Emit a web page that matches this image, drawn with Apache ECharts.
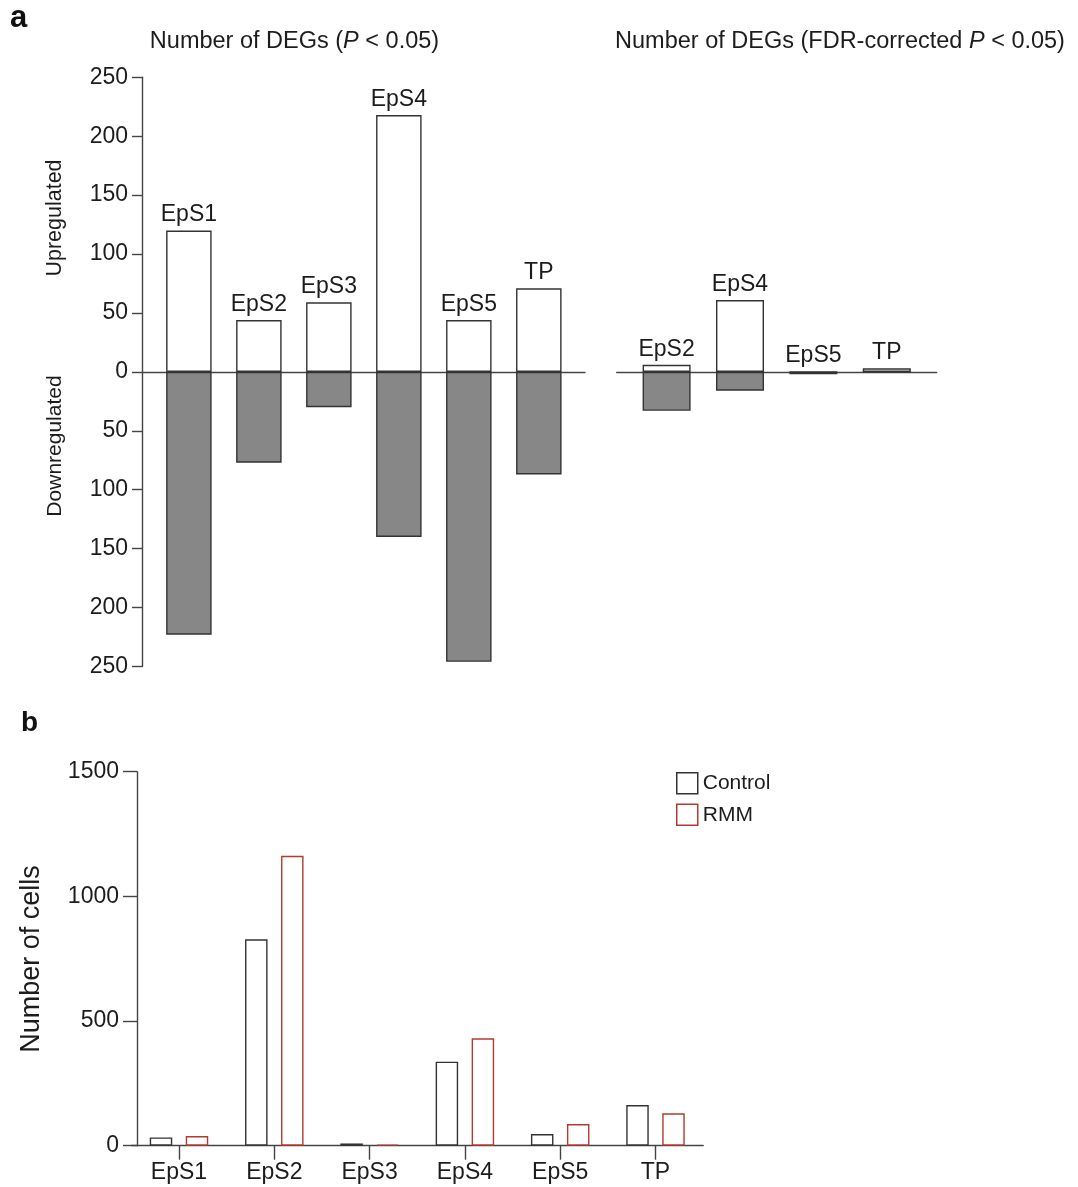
<!DOCTYPE html>
<html>
<head>
<meta charset="utf-8">
<script src="https://cdn.jsdelivr.net/npm/echarts@6/dist/echarts.min.js"></script>
<style>
  html, body { margin: 0; padding: 0; background: #ffffff; }
  #chart { width: 1078px; height: 1187px; }
</style>
</head>
<body>
<div id="chart"></div>
<script>
// Panel a, left: DEG counts per cluster at nominal P < 0.05
const clustersP = ['EpS1', 'EpS2', 'EpS3', 'EpS4', 'EpS5', 'TP'];
const upP = [120, 44, 59, 218, 44, 71];
const downP = [223, 77, 30, 140, 246, 87];

// Panel a, right: DEG counts after FDR correction
const clustersFdr = ['EpS2', 'EpS4', 'EpS5', 'TP'];
const upFdr = [6, 61, 0, 3];
const downFdr = [33, 16, 2, 0];

// Panel b: cell numbers per cluster
const cellClusters = ['EpS1', 'EpS2', 'EpS3', 'EpS4', 'EpS5', 'TP'];
const controlCells = [33, 828, 9, 337, 47, 163];
const rmmCells = [39, 1163, 5, 431, 87, 130];

const FONT = '"Liberation Sans", Arial, Helvetica, sans-serif';
const INK = '#1c1c1c';
const AXIS = '#444444';
const EDGE = '#333333';
const RED = '#b23b2f';
const DOWN_FILL = '#878787';

const axisLineStyle = { color: AXIS, width: 1.4 };

function degXAxis(gridIndex, lo, hi) {
  return {
    type: 'value', gridIndex: gridIndex, min: lo, max: hi,
    axisLine: { show: true, onZero: true, lineStyle: axisLineStyle },
    axisTick: { show: false }, axisLabel: { show: false }, splitLine: { show: false }
  };
}

function barLabel(names) {
  return {
    show: true, position: 'top', distance: 4,
    fontFamily: FONT, fontSize: 23, color: INK,
    formatter: p => names[p.dataIndex]
  };
}

const chart = echarts.init(document.getElementById('chart'), null, { renderer: 'canvas' });

chart.setOption({
  animation: false,
  backgroundColor: '#ffffff',
  textStyle: { fontFamily: FONT },
  grid: [
    { left: 142, top: 77.3, width: 443, height: 589.2, containLabel: false, outerBoundsMode: 'none' },
    { left: 616.7, top: 77.3, width: 320, height: 589.2, containLabel: false, outerBoundsMode: 'none' },
    { left: 131.35, top: 771.7, width: 571.8, height: 374, containLabel: false, outerBoundsMode: 'none' }
  ],
  xAxis: [
    degXAxis(0, -0.67, 5.66),
    degXAxis(1, -0.68, 3.68),
    {
      type: 'category', gridIndex: 2, data: cellClusters,
      axisLine: { show: true, onZero: false, lineStyle: axisLineStyle },
      axisTick: { show: true, alignWithLabel: true, length: 14, lineStyle: axisLineStyle },
      axisLabel: { fontFamily: FONT, fontSize: 23, color: INK, margin: 15 },
      splitLine: { show: false }
    }
  ],
  yAxis: [
    {
      type: 'value', gridIndex: 0, min: -250, max: 250, interval: 50,
      axisLine: { show: true, onZero: false, lineStyle: axisLineStyle },
      axisTick: { show: true, length: 10, lineStyle: axisLineStyle },
      axisLabel: { fontFamily: FONT, fontSize: 23, color: INK, margin: 14, formatter: v => String(Math.abs(v)) },
      splitLine: { show: false }
    },
    {
      type: 'value', gridIndex: 1, min: -250, max: 250, interval: 50, show: false,
      axisLine: { onZero: false }, splitLine: { show: false }
    },
    {
      type: 'value', gridIndex: 2, min: 0, max: 1500, interval: 500, offset: -5.65,
      axisLine: { show: true, onZero: false, lineStyle: axisLineStyle },
      axisTick: { show: true, length: 14, lineStyle: axisLineStyle },
      axisLabel: { fontFamily: FONT, fontSize: 23, color: INK, margin: 18, formatter: v => String(v) },
      splitLine: { show: false }
    }
  ],
  legend: {
    left: 676, top: 772, orient: 'vertical', padding: 0,
    itemWidth: 21, itemHeight: 21, itemGap: 9, selectedMode: false,
    textStyle: { fontFamily: FONT, fontSize: 21, color: INK },
    data: [
      { name: 'Control', icon: 'rect', itemStyle: { color: '#ffffff', borderColor: EDGE, borderWidth: 1.5 } },
      { name: 'RMM', icon: 'rect', itemStyle: { color: '#ffffff', borderColor: RED, borderWidth: 1.5 } }
    ]
  },
  series: [
    {
      name: 'Down (P < 0.05)', type: 'bar', xAxisIndex: 0, yAxisIndex: 0,
      barWidth: 45.5, barGap: '-100%',
      data: downP.map((v, i) => [i, -v]),
      itemStyle: { color: DOWN_FILL, borderColor: EDGE, borderWidth: 1.4 }
    },
    {
      name: 'Up (P < 0.05)', type: 'bar', xAxisIndex: 0, yAxisIndex: 0,
      barWidth: 45.5, barGap: '-100%',
      data: upP.map((v, i) => [i, v]),
      itemStyle: { color: '#ffffff', borderColor: EDGE, borderWidth: 1.4 },
      label: barLabel(clustersP)
    },
    {
      name: 'Down (FDR)', type: 'bar', xAxisIndex: 1, yAxisIndex: 1,
      barWidth: 48, barGap: '-100%',
      data: downFdr.map((v, i) => [i, -v]),
      itemStyle: { color: DOWN_FILL, borderColor: EDGE, borderWidth: 1.4 }
    },
    {
      name: 'Up (FDR)', type: 'bar', xAxisIndex: 1, yAxisIndex: 1,
      barWidth: 48, barGap: '-100%',
      data: upFdr.map((v, i) => [i, v]),
      itemStyle: { color: '#ffffff', borderColor: EDGE, borderWidth: 1.4 },
      label: barLabel(clustersFdr)
    },
    {
      name: 'Control', type: 'bar', xAxisIndex: 2, yAxisIndex: 2,
      barWidth: 22.5, barGap: '60%',
      data: controlCells,
      itemStyle: { color: '#ffffff', borderColor: EDGE, borderWidth: 1.4 }
    },
    {
      name: 'RMM', type: 'bar', xAxisIndex: 2, yAxisIndex: 2,
      barWidth: 22.5, barGap: '60%',
      data: rmmCells,
      itemStyle: { color: '#ffffff', borderColor: RED, borderWidth: 1.4 }
    }
  ],
  graphic: [
    { type: 'text', x: 10, y: 18, style: { text: 'a', fontFamily: FONT, fontWeight: 'bold', fontSize: 31, fill: '#111', align: 'left', verticalAlign: 'middle' } },
    { type: 'text', x: 21, y: 723.5, style: { text: 'b', fontFamily: FONT, fontWeight: 'bold', fontSize: 28, fill: '#111', align: 'left', verticalAlign: 'middle' } },
    {
      type: 'text', x: 294.5, y: 41.5,
      style: {
        text: '{n|Number of DEGs (}{i|P}{n| < 0.05)}', align: 'center', verticalAlign: 'middle',
        rich: {
          n: { fontFamily: FONT, fontSize: 23.5, fill: INK },
          i: { fontFamily: FONT, fontSize: 23.5, fontStyle: 'italic', fill: INK }
        }
      }
    },
    {
      type: 'text', x: 840, y: 41.5,
      style: {
        text: '{n|Number of DEGs (FDR-corrected }{i|P}{n| < 0.05)}', align: 'center', verticalAlign: 'middle',
        rich: {
          n: { fontFamily: FONT, fontSize: 23.5, fill: INK },
          i: { fontFamily: FONT, fontSize: 23.5, fontStyle: 'italic', fill: INK }
        }
      }
    },
    { type: 'text', x: 55, y: 218, rotation: Math.PI / 2, style: { text: 'Upregulated', fontFamily: FONT, fontSize: 21.5, fill: INK, align: 'center', verticalAlign: 'middle' } },
    { type: 'text', x: 55, y: 446, rotation: Math.PI / 2, style: { text: 'Downregulated', fontFamily: FONT, fontSize: 21, fill: INK, align: 'center', verticalAlign: 'middle' } },
    { type: 'text', x: 32, y: 959, rotation: Math.PI / 2, style: { text: 'Number of cells', fontFamily: FONT, fontSize: 27, fill: INK, align: 'center', verticalAlign: 'middle' } }
  ]
});
</script>
</body>
</html>
